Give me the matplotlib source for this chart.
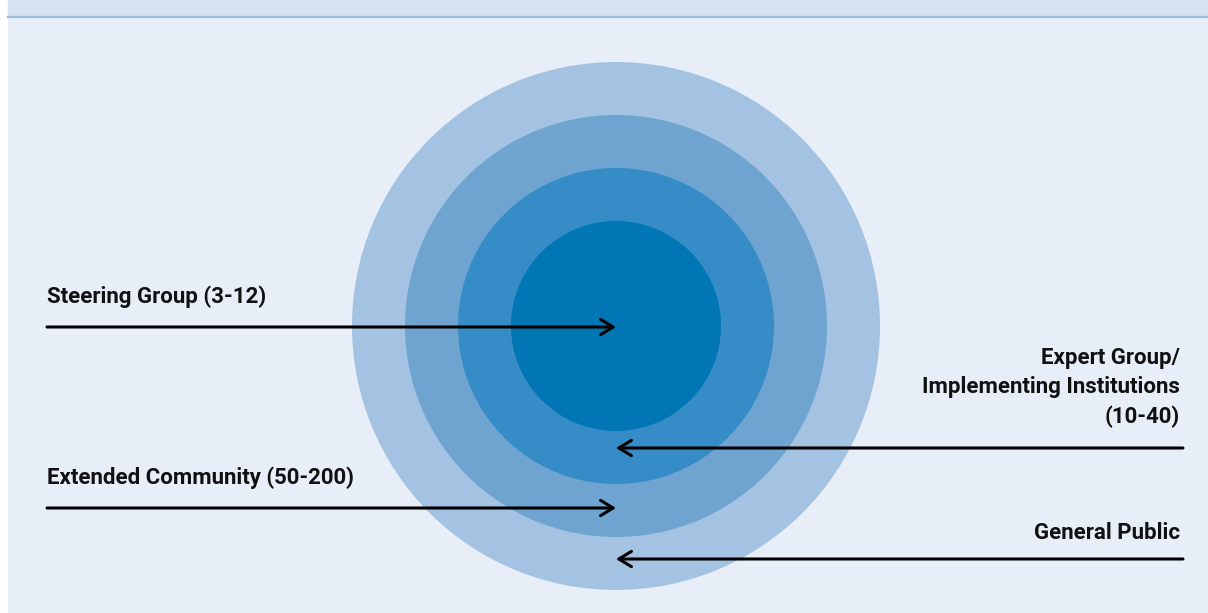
import matplotlib
matplotlib.use('Agg')
import matplotlib.pyplot as plt
from matplotlib.patches import Circle, Rectangle

# stakeholder rings, outer -> inner (pixel radii)
ring_radii = [264, 211, 158, 105]
ring_colors = ['#a4c2e1', '#6fa4d1', '#358cc6', '#0076b5']
center = (616, 326)

# labels: text, side the arrow comes from, arrow y, label baseline y
labels = ['Steering Group (3-12)',
          'Expert Group/\nImplementing Institutions\n(10-40)',
          'Extended Community (50-200)',
          'General Public']
sides = ['left', 'right', 'left', 'right']
arrow_y = [327, 448, 508, 559]
text_y = [303, 423, 484, 539]

W, H = 1208, 613
fig = plt.figure(figsize=(W / 100, H / 100), dpi=100)
fig.patch.set_facecolor('white')
ax = fig.add_axes([0, 0, 1, 1])
ax.set_xlim(0, W); ax.set_ylim(H, 0)
ax.set_aspect('equal'); ax.axis('off')

# background panel + header band
ax.add_patch(Rectangle((8, 0), W - 8, H, color='#e8eef7', zorder=0))
ax.add_patch(Rectangle((8, 0), W - 8, 16, color='#d4e2f1', zorder=1))
ax.plot([8, W], [16.5, 16.5], color='#9fbddb', lw=1.6, zorder=2)

for r, c in zip(ring_radii, ring_colors):
    ax.add_patch(Circle(center, r, color=c, lw=0, zorder=3))

font = dict(family=['Roboto', 'DejaVu Sans'],
            weight='bold', size=16, color='#111111')
for lab, side, ay, ty in zip(labels, sides, arrow_y, text_y):
    if side == 'left':
        x0, ha, tx = 47, 'left', 47
    else:
        x0, ha, tx = 1183, 'right', 1180
    ax.annotate('', xy=(center[0], ay), xytext=(x0, ay),
                arrowprops=dict(arrowstyle='->,head_length=0.9,head_width=0.55',
                                color='black', lw=2.2, shrinkA=0, shrinkB=0),
                zorder=5)
    ax.text(tx, ty, lab, ha=ha, va='baseline', multialignment=ha,
            linespacing=1.42, zorder=6, **font)

fig.savefig('out.png', dpi=100, facecolor=fig.get_facecolor())
